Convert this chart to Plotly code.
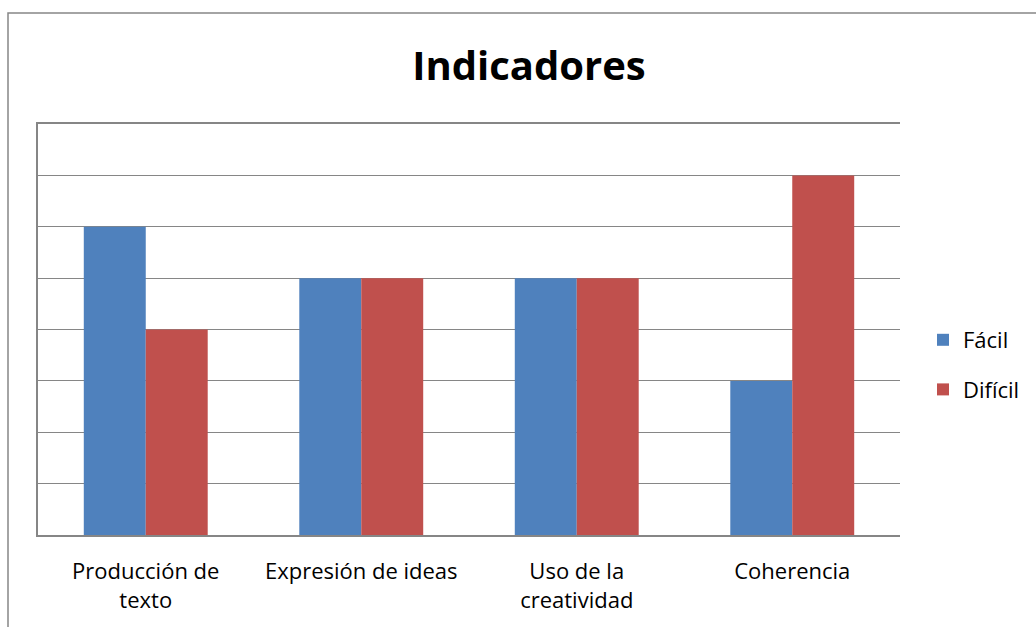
import plotly.graph_objects as go

categories = ["Producción de<br>texto", "Expresión de ideas", "Uso de la<br>creatividad", "Coherencia"]
facil = [6, 5, 5, 3]
dificil = [4, 5, 5, 7]

W, H = 1036, 627
L, R, T, B = 38, 136, 124, 92
pw, ph = W - L - R, H - T - B

def px(x):
    return (x - L) / pw

def py(y):
    return 1 - (y - T) / ph

grid = "#868686"
font = "'Open Sans', sans-serif"

fig = go.Figure()
fig.add_trace(go.Bar(name="Fácil", x=categories, y=facil, marker_color="#4F81BD",
                     marker_line_width=0, legendgroup="a"))
fig.add_trace(go.Bar(name="Difícil", x=categories, y=dificil, marker_color="#C0504D",
                     marker_line_width=0, legendgroup="b"))

fig.update_layout(
    width=W, height=H,
    margin=dict(l=L, r=R, t=T, b=B, autoexpand=False),
    paper_bgcolor="white", plot_bgcolor="white",
    barmode="group", bargap=0.425, bargroupgap=0,
    font=dict(family=font, color="#000000", size=22),
    title=dict(text="<b>Indicadores</b>", x=px(529), xref="paper", xanchor="center",
               y=1 - 66 / H, yanchor="middle", font=dict(size=40, family=font)),
    legend=dict(x=px(923), y=py(365), xanchor="left", yanchor="middle",
                font=dict(size=22, family=font), traceorder="grouped",
                tracegroupgap=18, itemwidth=30, bgcolor="rgba(0,0,0,0)"),
    showlegend=True,
    xaxis=dict(showline=True, linecolor=grid, linewidth=1.5, showgrid=False, mirror=True,
               ticks="", tickfont=dict(size=22), ticklabelstandoff=16, fixedrange=True),
    yaxis=dict(range=[0, 8], dtick=1, showticklabels=False, showgrid=True,
               gridcolor=grid, gridwidth=1.2, showline=True, linecolor=grid,
               linewidth=1.5, zeroline=False, ticks="", fixedrange=True),
    shapes=[dict(type="rect", xref="paper", yref="paper",
                 x0=px(8), x1=px(1060), y0=py(660), y1=py(13),
                 line=dict(color=grid, width=1.5), fillcolor="rgba(0,0,0,0)", layer="below")],
)

fig.write_html("out.html", config={"displayModeBar": False},
               post_script="document.body.style.margin='0';")
